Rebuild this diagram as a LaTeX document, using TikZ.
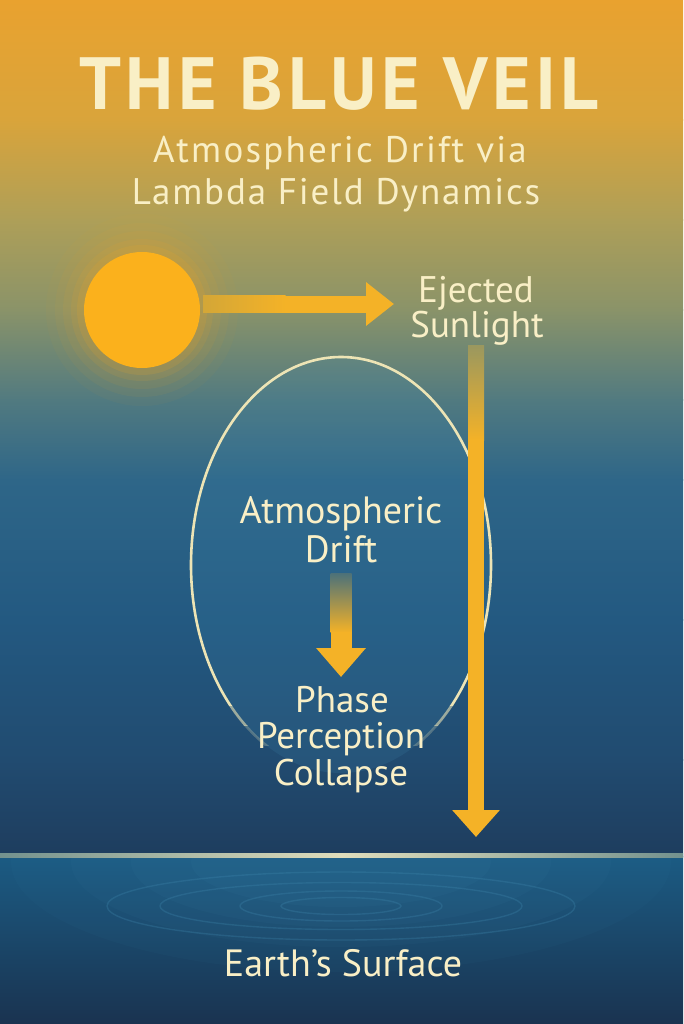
\documentclass[tikz,border=0pt]{standalone}
\usepackage{fontspec}
\setmainfont{PT Sans}
\usetikzlibrary{arrows.meta}
\definecolor{cream}{HTML}{F9EFC6}
\definecolor{sunc}{HTML}{FBB11C}
\definecolor{sunglow}{HTML}{F2A524}
\definecolor{arr}{HTML}{F4B227}
\definecolor{bg0}{HTML}{E9A22F}
\definecolor{bg1}{HTML}{D9A43B}
\definecolor{bg2}{HTML}{AE9F58}
\definecolor{bg3}{HTML}{8A9369}
\definecolor{bg4}{HTML}{517A80}
\definecolor{bg5}{HTML}{2E6688}
\definecolor{bg6}{HTML}{235981}
\definecolor{bg7}{HTML}{214B70}
\definecolor{bg8}{HTML}{1E3D5E}
\definecolor{lo0}{HTML}{1B5B83}
\definecolor{lo1}{HTML}{1A3350}
\definecolor{ring}{HTML}{3E86AC}
\definecolor{ellc}{HTML}{EDE4B5}
\begin{document}
\begin{tikzpicture}[x=1pt,y=-1pt,
  txt/.style={text=cream, inner sep=0pt, anchor=base},
  bigarrow/.style={draw=arr, line width=#1}]
\useasboundingbox (0,0) rectangle (683,1024);
% background
\foreach \ya/\yb/\ca/\cb in {0/120/bg0/bg1,120/220/bg1/bg2,220/310/bg2/bg3,310/400/bg3/bg4,400/480/bg4/bg5,480/620/bg5/bg6,620/760/bg6/bg7,760/856/bg7/bg8}
  \shade[top color=\ca, bottom color=\cb] (0,\ya-0.6) rectangle (683,\yb+0.6);
\shade[top color=lo0, bottom color=lo1] (0,856) rectangle (683,1024);
\begin{scope}
  \clip (0,856) rectangle (683,1024);
  \foreach \rx/\ry/\o in {330/110/0.05,270/85/0.06,210/65/0.07,150/45/0.08}
    \fill[ring, opacity=\o] (341,862) ellipse[x radius=\rx pt, y radius=\ry pt];
\end{scope}
% ripples
\foreach \rx/\ry in {60/8.5,101/15,181/23.5,234/34}
  \draw[ring, opacity=0.3, line width=1.4pt] (341,906) ellipse[x radius=\rx pt, y radius=\ry pt];
% horizon
\shade[left color=bg4!80!cream, right color=bg4!80!cream, middle color=cream!85!bg4] (0,853.5) rectangle (683,857);
% sun glow and sun
\foreach \r/\o in {96/0.04,87/0.06,79/0.08,71/0.11,65/0.15}
  \fill[sunglow, opacity=\o] (142,310) circle[radius=\r pt];
\node[circle, fill=sunc, minimum size=116pt, inner sep=0pt] (sun) at (142,310) {};
% ellipse
\fill[ring, opacity=0.18] (341,565) ellipse[x radius=150pt, y radius=208pt];
\begin{scope}
  \clip (0,0) rectangle (683,705);
  \draw[ellc, line width=2.6pt] (341,565) ellipse[x radius=150pt, y radius=208pt];
\end{scope}
\begin{scope}
  \clip (0,705) rectangle (683,725);
  \draw[ellc, opacity=0.6, line width=2.6pt] (341,565) ellipse[x radius=150pt, y radius=208pt];
\end{scope}
\begin{scope}
  \clip (0,725) rectangle (683,745);
  \draw[ellc, opacity=0.25, line width=2.6pt] (341,565) ellipse[x radius=150pt, y radius=208pt];
\end{scope}
% texts
\node[txt, font=\bfseries\fontsize{74}{74}\selectfont\addfontfeature{LetterSpace=6}] (title) at (339,110) {THE BLUE VEIL};
\node[txt, font=\fontsize{37}{37}\selectfont\addfontfeature{LetterSpace=6}] (sub1) at (340,163) {Atmospheric Drift via};
\node[txt, font=\fontsize{37}{37}\selectfont\addfontfeature{LetterSpace=5}] (sub2) at (336,205) {Lambda Field Dynamics};
\node[txt, font=\fontsize{37}{37}\selectfont] (ej1) at (476,302) {Ejected};
\node[txt, font=\fontsize{37}{37}\selectfont] (ej2) at (477,337) {Sunlight};
\node[txt, font=\fontsize{38}{38}\selectfont] (at1) at (341,523) {Atmospheric};
\node[txt, font=\fontsize{38}{38}\selectfont] (at2) at (341,562) {Drift};
\node[txt, font=\fontsize{37}{37}\selectfont] (ph1) at (342,712) {Phase};
\node[txt, font=\fontsize{37}{37}\selectfont] (ph2) at (341,748) {Perception};
\node[txt, font=\fontsize{37}{37}\selectfont] (ph3) at (341,785) {Collapse};
\node[txt, font=\fontsize{38}{38}\selectfont] (earth) at (343,976) {Earth’s Surface};
% horizontal arrow
\coordinate (hs) at (203,304);
\coordinate (hm) at (285,304);
\coordinate (ht) at (394,304);
\shade[left color=bg3!35!sunc, right color=arr] (203,295.5) rectangle (285.5,312.5);
\draw[bigarrow=17pt, -{Triangle[width=42pt,length=28pt,fill=arr]}] (hm) -- (ht);
% vertical arrow
\coordinate (vs) at (476,345);
\coordinate (vm) at (476,440);
\coordinate (vt) at (476,837);
\shade[top color=bg3!85!arr, bottom color=arr] (468,345) rectangle (484,440.5);
\draw[bigarrow=16pt, -{Triangle[width=46pt,length=27pt,fill=arr]}] (vm) -- (vt);
% small arrow
\coordinate (ss) at (341,573);
\coordinate (sm) at (341,632);
\coordinate (st) at (341,677);
\shade[top color=bg5!85!arr, bottom color=arr] (330.5,573) rectangle (351.5,632.5);
\draw[bigarrow=21pt, -{Triangle[width=48pt,length=29pt,fill=arr]}] (sm) -- (st);
\end{tikzpicture}
\end{document}
